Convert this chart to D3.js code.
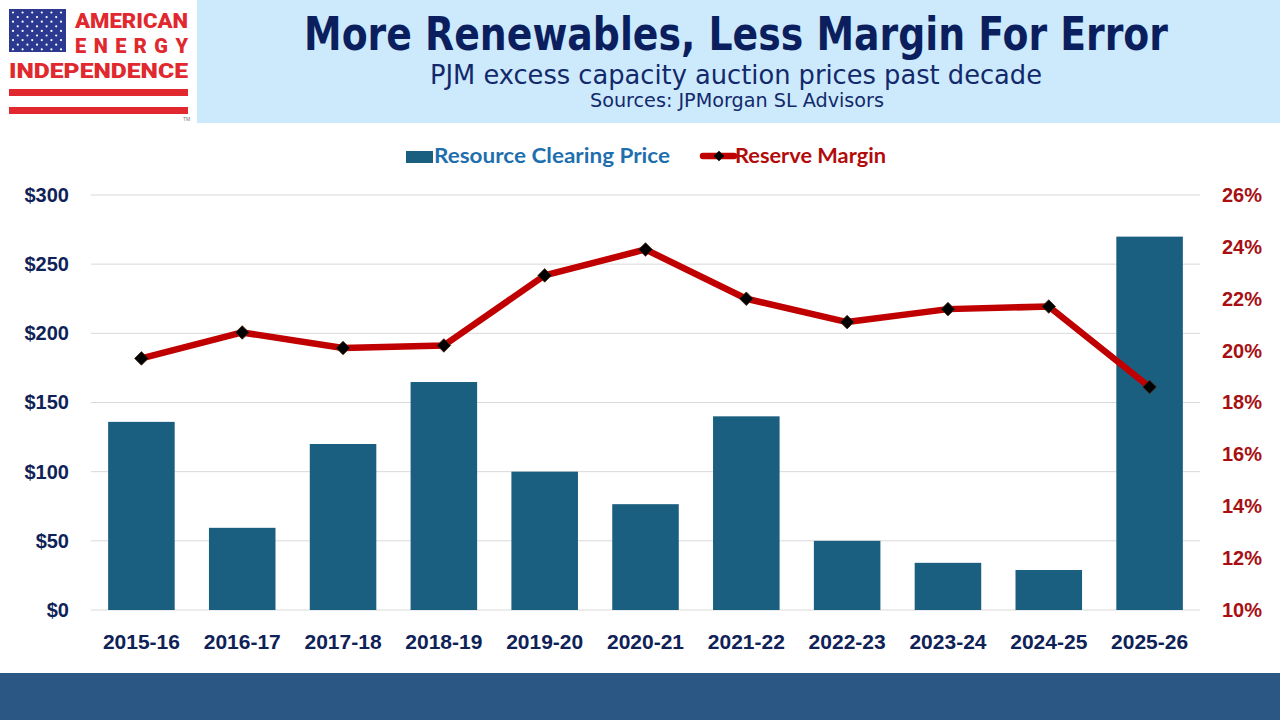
<!DOCTYPE html>
<html>
<head>
<meta charset="utf-8">
<script src="https://cdn.jsdelivr.net/npm/d3@7"></script>
<style>
  body { margin: 0; background: #ffffff; }
  svg { display: block; }
</style>
</head>
<body>
<script>
// chart data
const seasons = ["2015-16", "2016-17", "2017-18", "2018-19", "2019-20", "2020-21", "2021-22", "2022-23", "2023-24", "2024-25", "2025-26"];
const clearingPrice = [136, 59.4, 120, 164.8, 100, 76.5, 140, 50, 34.1, 28.9, 269.9];
const reserveMargin = [19.7, 20.7, 20.1, 20.2, 22.9, 23.9, 22.0, 21.1, 21.6, 21.7, 18.6];
const priceTicks = [0, 50, 100, 150, 200, 250, 300];
const marginTicks = [10, 12, 14, 16, 18, 20, 22, 24, 26];

const titleText = "More Renewables, Less Margin For Error";
const subtitleText = "PJM excess capacity auction prices past decade";
const sourceText = "Sources: JPMorgan SL Advisors";
const seriesNames = ["Resource Clearing Price", "Reserve Margin"];

const width = 1280, height = 720;
const plot = { left: 91, right: 1200, top: 195, bottom: 610 };

const barColor = "#1a5e80";
const lineColor = "#c00000";
const navy = "#0f2257";
const red = "#a80f12";
const sans = "'Liberation Sans', Arial, sans-serif";
const tahoma = "'DejaVu Sans Condensed', 'DejaVu Sans', sans-serif";

const svg = d3.select("body").append("svg")
    .attr("width", width)
    .attr("height", height);

// ---- header band, footer band and logo ----
svg.append("rect")
    .attr("x", 197).attr("y", 0)
    .attr("width", width - 197).attr("height", 123)
    .attr("fill", "#cdeafc");

svg.append("rect")
    .attr("x", 0).attr("y", 673)
    .attr("width", width).attr("height", height - 673)
    .attr("fill", "#2b5785");

const logo = svg.append("g");
logo.append("rect")
    .attr("x", 9).attr("y", 9).attr("width", 57).attr("height", 43)
    .attr("fill", "#2b3990");
// stars as small dots
const stars = [];
for (let r = 0; r < 9; r++) {
    const cols = r % 2 === 0 ? 6 : 5;
    for (let c = 0; c < cols; c++) {
        stars.push([13 + c * 9.6 + (r % 2 ? 4.8 : 0), 12.5 + r * 4.6]);
    }
}
logo.selectAll("circle").data(stars).enter().append("circle")
    .attr("cx", d => d[0]).attr("cy", d => d[1]).attr("r", 1.1)
    .attr("fill", "#ffffff");

const logoRed = "#e0282e";
const logoFont = `900 20px Roboto, ${sans}`;
logo.append("text").attr("x", 75).attr("y", 28)
    .attr("textLength", 113).attr("lengthAdjust", "spacingAndGlyphs")
    .style("font", logoFont).style("fill", logoRed).text("AMERICAN");
logo.append("text").attr("x", 75).attr("y", 53)
    .attr("textLength", 113).attr("lengthAdjust", "spacing")
    .style("font", logoFont).style("fill", logoRed).text("ENERGY");
logo.append("text").attr("x", 9).attr("y", 78)
    .attr("textLength", 179).attr("lengthAdjust", "spacingAndGlyphs")
    .style("font", logoFont).style("fill", logoRed).text("INDEPENDENCE");
[89, 107].forEach(y => {
    logo.append("rect").attr("x", 9).attr("y", y).attr("width", 179).attr("height", 7)
        .attr("fill", logoRed);
});
logo.append("text").attr("x", 183).attr("y", 121)
    .style("font", `5px ${sans}`).style("fill", "#777").text("TM");

// ---- titles ----
svg.append("text").attr("x", 736).attr("y", 50)
    .attr("text-anchor", "middle")
    .attr("textLength", 864).attr("lengthAdjust", "spacingAndGlyphs")
    .style("font", `bold 46px ${tahoma}`).style("fill", "#0b1f5e")
    .text(titleText);
svg.append("text").attr("x", 736).attr("y", 84)
    .attr("text-anchor", "middle")
    .attr("textLength", 612).attr("lengthAdjust", "spacingAndGlyphs")
    .style("font", `27px ${tahoma}`).style("fill", "#12296b")
    .text(subtitleText);
svg.append("text").attr("x", 737).attr("y", 107)
    .attr("text-anchor", "middle")
    .attr("textLength", 294).attr("lengthAdjust", "spacingAndGlyphs")
    .style("font", `19px ${tahoma}`).style("fill", "#12296b")
    .text(sourceText);

// ---- scales ----
const x = d3.scaleBand()
    .domain(seasons)
    .range([plot.left, plot.right])
    .paddingInner(0.34)
    .paddingOuter(0.17);

const yPrice = d3.scaleLinear().domain([0, 300]).range([plot.bottom, plot.top]);
const yMargin = d3.scaleLinear().domain([10, 26]).range([plot.bottom, plot.top]);

// gridlines
svg.append("g")
    .selectAll("line")
    .data(priceTicks)
    .enter().append("line")
    .attr("x1", plot.left).attr("x2", plot.right)
    .attr("y1", d => yPrice(d)).attr("y2", d => yPrice(d))
    .attr("stroke", "#d9d9d9").attr("stroke-width", 1);

// bars
svg.append("g")
    .selectAll("rect")
    .data(clearingPrice)
    .enter().append("rect")
    .attr("x", (d, i) => x(seasons[i]))
    .attr("width", x.bandwidth())
    .attr("y", d => yPrice(d))
    .attr("height", d => yPrice(0) - yPrice(d))
    .attr("fill", barColor);

// reserve margin line
const line = d3.line()
    .x((d, i) => x(seasons[i]) + x.bandwidth() / 2)
    .y(d => yMargin(d));

svg.append("path")
    .datum(reserveMargin)
    .attr("d", line)
    .attr("fill", "none")
    .attr("stroke", lineColor)
    .attr("stroke-width", 6.5)
    .attr("stroke-linejoin", "round");

const diamond = d3.symbol(d3.symbolSquare, 92);
svg.append("g")
    .selectAll("path")
    .data(reserveMargin)
    .enter().append("path")
    .attr("d", diamond)
    .attr("transform", (d, i) => `translate(${x(seasons[i]) + x.bandwidth() / 2},${yMargin(d)}) rotate(45)`)
    .attr("fill", "#000000")
    .attr("stroke", "#4a2a10")
    .attr("stroke-width", 0.8);

// ---- axes ----
const leftAxis = svg.append("g")
    .attr("transform", `translate(${plot.left},0)`)
    .call(d3.axisLeft(yPrice).tickValues(priceTicks).tickSize(0).tickPadding(22).tickFormat(d => "$" + d));
leftAxis.select(".domain").remove();
leftAxis.selectAll("text")
    .style("font", `bold 20px ${sans}`)
    .style("fill", navy);

const rightAxis = svg.append("g")
    .attr("transform", `translate(${plot.right},0)`)
    .call(d3.axisRight(yMargin).tickValues(marginTicks).tickSize(0).tickPadding(22).tickFormat(d => d + "%"));
rightAxis.select(".domain").remove();
rightAxis.selectAll("text")
    .style("font", `bold 20px ${sans}`)
    .style("fill", red);

const bottomAxis = svg.append("g")
    .attr("transform", `translate(0,${plot.bottom})`)
    .call(d3.axisBottom(x).tickSize(0).tickPadding(24));
bottomAxis.select(".domain").remove();
bottomAxis.selectAll("text")
    .style("font", `bold 21px ${sans}`)
    .style("fill", navy);

// ---- legend ----
const legend = svg.append("g");
legend.append("rect")
    .attr("x", 406).attr("y", 151).attr("width", 27).attr("height", 12)
    .attr("fill", barColor);
legend.append("text")
    .attr("x", 434).attr("y", 163)
    .attr("textLength", 236).attr("lengthAdjust", "spacingAndGlyphs")
    .style("font", `bold 21px Lato, ${sans}`)
    .style("fill", "#1f6fae")
    .text(seriesNames[0]);

legend.append("line")
    .attr("x1", 703).attr("x2", 734).attr("y1", 156).attr("y2", 156)
    .attr("stroke", lineColor).attr("stroke-width", 6.5).attr("stroke-linecap", "round");
legend.append("path")
    .attr("d", d3.symbol(d3.symbolSquare, 56))
    .attr("transform", "translate(719,156) rotate(45)")
    .attr("fill", "#000000");
legend.append("text")
    .attr("x", 735).attr("y", 163)
    .attr("textLength", 151).attr("lengthAdjust", "spacingAndGlyphs")
    .style("font", `bold 21px Lato, ${sans}`)
    .style("fill", "#b30a0a")
    .text(seriesNames[1]);
</script>
</body>
</html>
